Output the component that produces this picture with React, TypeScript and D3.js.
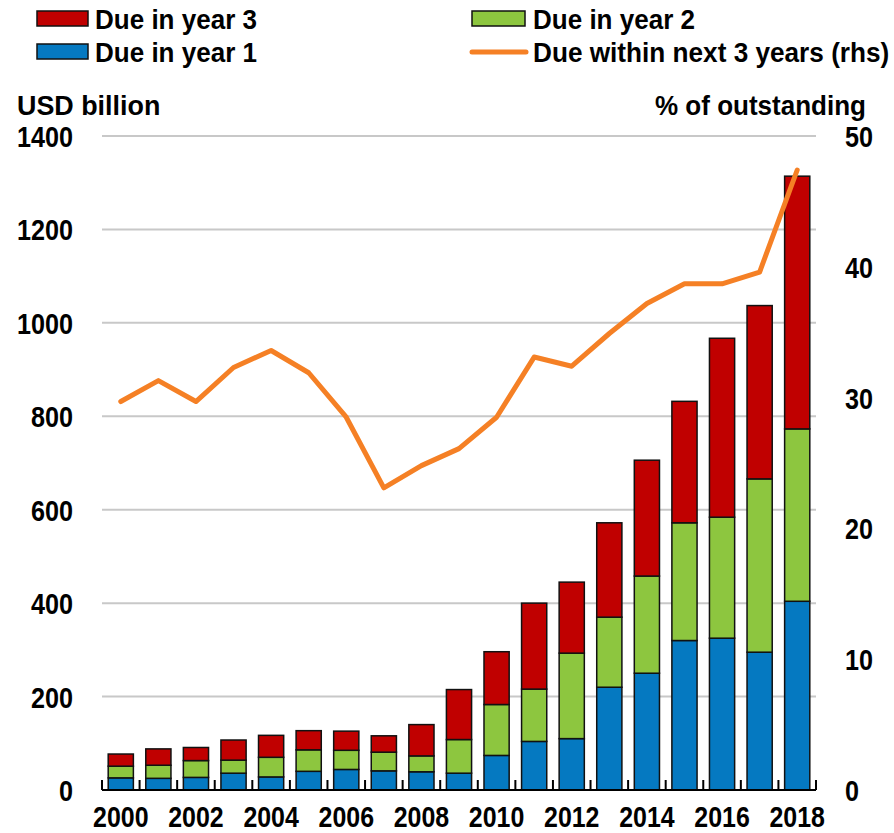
import React from "react";
import * as d3 from "d3";

const years = ["2000","2001","2002","2003","2004","2005","2006","2007","2008","2009","2010","2011","2012","2013","2014","2015","2016","2017","2018"];
const year1 = [26, 25, 27, 36, 28, 40, 44, 41, 39, 36, 74, 104, 110, 220, 250, 320, 325, 295, 404];
const year2Top = [51, 53, 63, 64, 70, 86, 85, 81, 73, 108, 183, 216, 293, 370, 458, 572, 584, 666, 773];
const year3Top = [77, 88, 91, 107, 117, 127, 126, 116, 140, 215, 296, 400, 445, 572, 706, 832, 967, 1037, 1314];
const year2 = year2Top.map((v, i) => v - year1[i]);
const year3 = year3Top.map((v, i) => v - year2Top[i]);
const shareNext3 = [29.7, 31.3, 29.7, 32.3, 33.6, 31.9, 28.5, 23.1, 24.8, 26.1, 28.5, 33.1, 32.4, 34.9, 37.2, 38.7, 38.7, 39.6, 47.4];
const leftTicks = [0, 200, 400, 600, 800, 1000, 1200, 1400];
const rightTicks = [0, 10, 20, 30, 40, 50];
const xLabels = ["2000","2002","2004","2006","2008","2010","2012","2014","2016","2018"];

const RED = "#c00000";
const GREEN = "#8dc63f";
const BLUE = "#0579c1";
const ORANGE = "#f58025";
const FONT = "'Liberation Sans', Arial, sans-serif";

function T(props: { x: number; y: number; size: number; sx: number; anchor?: string; children: React.ReactNode }) {
  const { x, y, size, sx, anchor = "start", children } = props;
  return (
    <text transform={`translate(${x},${y}) scale(${sx},1)`} fontSize={size} textAnchor={anchor}>{children}</text>
  );
}

export default function App() {
  const W = 894, H = 833;
  const x0 = 102, x1 = 816, yTop = 136, yBot = 790;
  const x = d3.scaleBand().domain(years).range([x0, x1]).paddingInner(0.33).paddingOuter(0.165);
  const xb = d3.scaleBand().domain(years).range([x0, x1]);
  const yL = d3.scaleLinear().domain([0, 1400]).range([yBot, yTop]);
  const yR = d3.scaleLinear().domain([0, 50]).range([yBot, yTop]);
  const line = d3.line<number>().x((_, i) => (x(years[i]) as number) + x.bandwidth() / 2).y(d => yR(d));

  const series = [
    { base: years.map(() => 0), vals: year1, color: BLUE },
    { base: year1, vals: year2, color: GREEN },
    { base: year2Top, vals: year3, color: RED },
  ];
  const TS = 0.84;
  const LS = 0.93;

  return (
    <svg width={W} height={H} style={{ position: "absolute", left: 0, top: 0, background: "#fff" }} fontFamily={FONT} fontWeight="bold">
      {leftTicks.slice(1).map(t => (
        <line key={"g" + t} x1={x0} x2={x1} y1={yL(t)} y2={yL(t)} stroke="#c8c8c8" strokeWidth={2} />
      ))}
      {series.map((s, si) => (
        <g key={si}>
          {years.map((yr, i) => (
            <rect key={yr} x={x(yr)} width={x.bandwidth()} y={yL(s.base[i] + s.vals[i])} height={yL(s.base[i]) - yL(s.base[i] + s.vals[i])}
              fill={s.color} stroke="#111" strokeWidth={1.5} />
          ))}
        </g>
      ))}
      <line x1={x0} x2={x1} y1={yBot} y2={yBot} stroke="#000" strokeWidth={2} />
      {years.concat(["end"]).map((yr, i) => {
        const xx = i < years.length ? (xb(yr) as number) : x1;
        return <line key={"t" + i} x1={xx} x2={xx} y1={yBot - 10} y2={yBot} stroke="#000" strokeWidth={2} />;
      })}
      <path d={line(shareNext3) || ""} fill="none" stroke={ORANGE} strokeWidth={5} strokeLinejoin="round" strokeLinecap="round" />
      {leftTicks.map(t => (
        <T key={"l" + t} x={73} y={yL(t) + 11} size={30} sx={TS} anchor="end">{t}</T>
      ))}
      {rightTicks.map(t => (
        <T key={"r" + t} x={845} y={yR(t) + 11} size={30} sx={TS}>{t}</T>
      ))}
      {xLabels.map(l => (
        <T key={"x" + l} x={(xb(l) as number) + xb.bandwidth() / 2} y={827} size={29} sx={0.86} anchor="middle">{l}</T>
      ))}
      <T x={17} y={115} size={28} sx={0.96}>USD billion</T>
      <T x={866} y={115} size={28} sx={0.93} anchor="end">% of outstanding</T>
      <rect x={37} y={11} width={51} height={15} fill={RED} stroke="#111" strokeWidth={1.5} />
      <T x={95} y={29} size={28} sx={LS}>Due in year 3</T>
      <rect x={37} y={44} width={51} height={15} fill={BLUE} stroke="#111" strokeWidth={1.5} />
      <T x={95} y={62} size={28} sx={LS}>Due in year 1</T>
      <rect x={472} y={11} width={53} height={15} fill={GREEN} stroke="#111" strokeWidth={1.5} />
      <T x={533} y={29} size={28} sx={LS}>Due in year 2</T>
      <line x1={472} x2={526} y1={52} y2={52} stroke={ORANGE} strokeWidth={5} strokeLinecap="round" />
      <T x={533} y={62} size={28} sx={0.935}>Due within next 3 years (rhs)</T>
    </svg>
  );
}
